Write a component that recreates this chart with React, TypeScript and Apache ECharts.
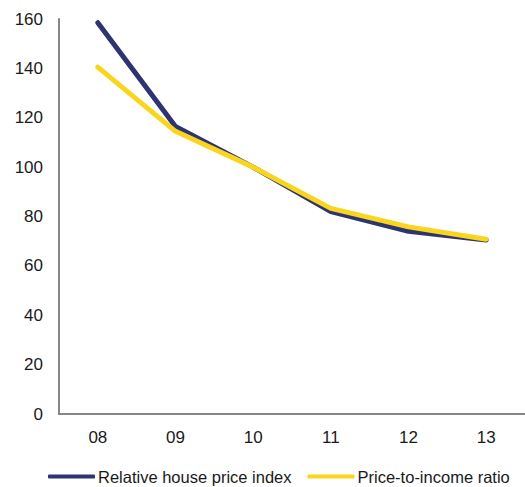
import React, { useEffect, useRef } from "react";
import * as echarts from "echarts";

const categories = ["08", "09", "10", "11", "12", "13"];
const housePriceIndex = [158.5, 116.5, 100, 82, 74, 70.5];
const priceToIncome = [140.5, 114.5, 100, 83.3, 75.8, 70.8];
const yTicks = { min: 0, max: 160, interval: 20 };

export default function App() {
  const ref = useRef<HTMLDivElement>(null);
  useEffect(() => {
    if (!ref.current) return;
    const chart = echarts.init(ref.current, undefined, { renderer: "svg" });
    const font = "'Liberation Sans', Arial, sans-serif";
    chart.setOption({
      animation: false,
      backgroundColor: "#ffffff",
      textStyle: { fontFamily: font },
      grid: { left: 59, right: 0, top: 19, bottom: 73, containLabel: false },
      xAxis: {
        type: "category",
        data: categories,
        boundaryGap: true,
        axisLine: { show: true, lineStyle: { color: "#868686", width: 2 } },
        axisTick: { show: false },
        axisLabel: { color: "#1a1a1a", fontSize: 17, margin: 15, fontFamily: font },
        splitLine: { show: false },
      },
      yAxis: {
        type: "value",
        min: yTicks.min,
        max: yTicks.max,
        interval: yTicks.interval,
        axisLine: { show: true, lineStyle: { color: "#868686", width: 2 } },
        axisTick: { show: false },
        axisLabel: { color: "#1a1a1a", fontSize: 17, margin: 16, fontFamily: font },
        splitLine: { show: false },
      },
      legend: {
        bottom: -3,
        left: 43,
        itemWidth: 47,
        itemHeight: 4,
        itemGap: 16,
        icon: "roundRect",
        textStyle: { color: "#1a1a1a", fontSize: 16.5, fontFamily: font, padding: [0, 0, 0, -2] },
        data: ["Relative house price index", "Price-to-income ratio"],
      },
      series: [
        {
          name: "Relative house price index",
          type: "line",
          data: housePriceIndex,
          showSymbol: false,
          symbol: "none",
          lineStyle: { color: "#2d3470", width: 5, cap: "round", join: "round" },
          itemStyle: { color: "#2d3470" },
          z: 2,
        },
        {
          name: "Price-to-income ratio",
          type: "line",
          data: priceToIncome,
          showSymbol: false,
          symbol: "none",
          lineStyle: { color: "#fad51e", width: 5, cap: "round", join: "round" },
          itemStyle: { color: "#fad51e" },
          z: 3,
        },
      ],
    });
    return () => chart.dispose();
  }, []);
  return (
    <div
      ref={ref}
      style={{ position: "absolute", left: 0, top: 0, width: 525, height: 487, background: "#fff" }}
    />
  );
}
